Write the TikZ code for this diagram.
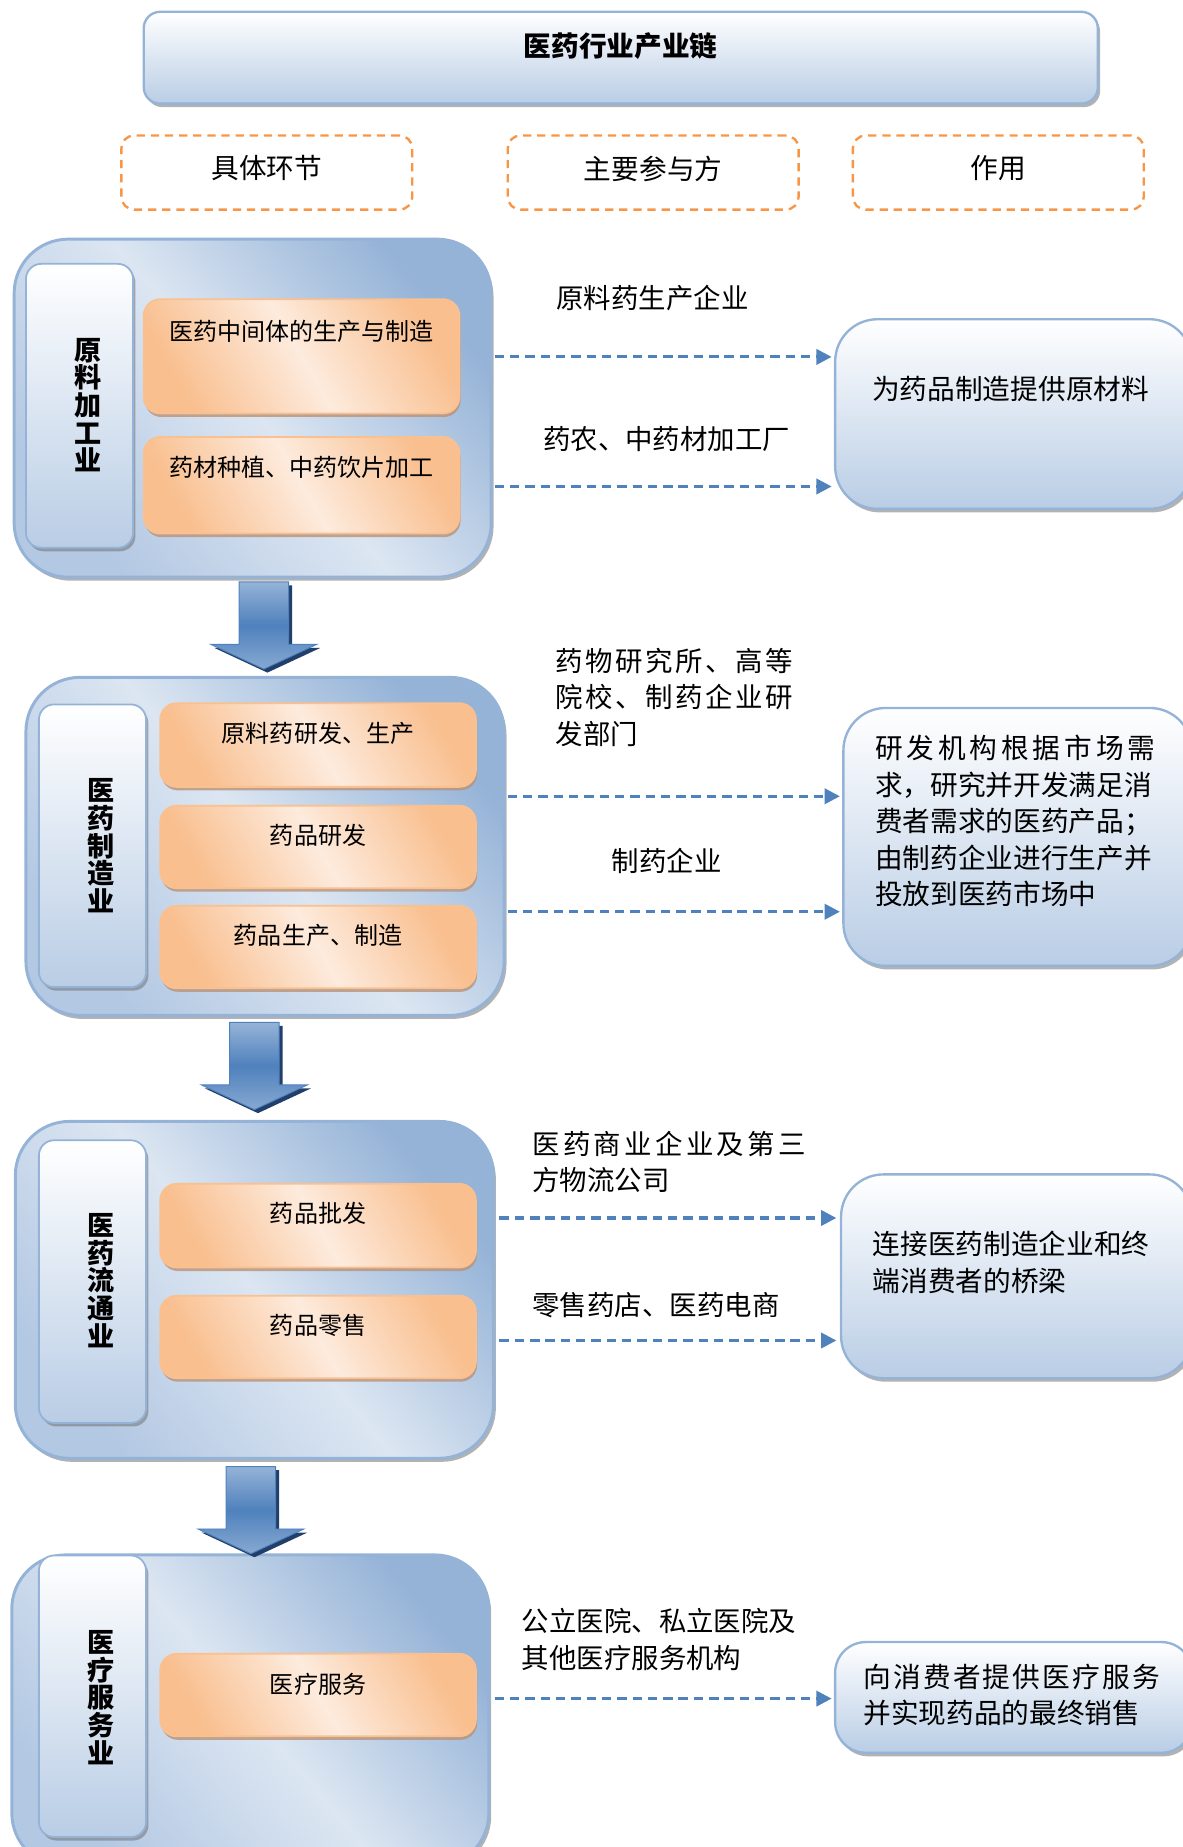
\documentclass[tikz,border=0pt]{standalone}
\usepackage{fontspec}
\newfontfamily\cjk{Noto Sans CJK SC}
\usetikzlibrary{shadows,arrows.meta,calc}
\definecolor{bordB}{HTML}{95B3D7}
\definecolor{lightB}{HTML}{DCE6F2}
\definecolor{midB}{HTML}{B9CDE5}
\definecolor{outD}{HTML}{95B3D7}
\definecolor{outM}{HTML}{B3C8E3}
\definecolor{darkB}{HTML}{4F81BD}
\definecolor{arrL}{HTML}{95B3D7}
\definecolor{arrSh}{HTML}{213F6A}
\definecolor{orng}{HTML}{F79646}
\definecolor{orL}{HTML}{FDEBDD}
\definecolor{orD}{HTML}{F9BF8F}
\definecolor{orB}{HTML}{FAC090}
\definecolor{orBr}{HTML}{B8937A}
\newcommand\fsz[2]{\fontsize{#1pt}{#2pt}\selectfont}
\newcommand\lsp[2]{{\addfontfeatures{LetterSpace=#1}#2}}
\tikzset{
  downarr/.pic={
    \fill[arrSh, shift={(3,3)}] (-21,0) -- (21,0) -- (21,53) -- (45,53) -- (0,74) -- (-45,53) -- (-21,53) -- cycle;
    \shade[top color=arrL, bottom color=arrL!80!darkB, middle color=darkB] (-21,0) -- (21,0) -- (21,53) -- (45,53) -- (0,74) -- (-45,53) -- (-21,53) -- cycle;
    \draw[darkB, line width=0.8pt] (-21,0) -- (21,0) -- (21,53) -- (45,53) -- (0,74) -- (-45,53) -- (-21,53) -- cycle;
  }
}
\begin{document}
\begin{tikzpicture}[x=1pt,y=-1pt,
  every node/.style={font=\cjk, inner sep=0pt, outer sep=0pt},
  shd/.style={drop shadow={shadow xshift=2pt, shadow yshift=-3pt, fill=black!55, opacity=0.55}},
  titlebox/.style={shd, draw=bordB, line width=2pt, rounded corners=14pt, top color=white, bottom color=midB},
  headbox/.style={draw=orng, line width=2pt, dash pattern=on 7pt off 5pt, rounded corners=11pt},
  outerbox/.style={shd, draw=bordB, line width=2.5pt, rounded corners=46pt, top color=outD, bottom color=outM, middle color=lightB, shading angle=-50},
  labbox/.style={shd, draw=bordB, line width=1.5pt, rounded corners=13pt, top color=white, bottom color=midB},
  obox/.style={drop shadow={shadow xshift=1pt, shadow yshift=-3pt, fill=orBr, opacity=0.8}, draw=orB, line width=1.5pt, rounded corners=14pt, top color=orD, bottom color=orD, middle color=orL, shading angle=-60},
  rbox/.style={shd, draw=bordB, line width=2pt, rounded corners=36pt, top color=white, bottom color=midB},
  conn/.style={draw=darkB, line width=2.6pt, dash pattern=on 8pt off 5pt, -{Triangle[length=13pt,width=13pt]}},
  ttl/.style={font=\cjk\bfseries\fsz{23.5}{26}},
  htxt/.style={font=\cjk\fsz{23.5}{26}},
  otxt/.style={font=\cjk\fsz{20.4}{24}},
  vtxt/.style={font=\cjk\bfseries\fsz{23}{23.5}, align=center},
  ptxt/.style={font=\cjk\fsz{23.3}{31}, align=left},
  rtxt/.style={font=\cjk\fsz{23.5}{31}, align=left}
]
\useasboundingbox (0,0) rectangle (1004,1568);

% title and headers
\node[titlebox, minimum width=810pt, minimum height=78pt] (title) at (527,49) {};
\node[ttl] (titletext) at (527,39) {医药行业产业链};
\node[headbox, minimum width=247pt, minimum height=63pt] (h1) at (226.5,146.5) {};
\node[headbox, minimum width=247pt, minimum height=63pt] (h2) at (554.5,146.5) {};
\node[headbox, minimum width=247pt, minimum height=63pt] (h3) at (847.5,146.5) {};
\node[htxt] (h1t) at (226.5,143) {具体环节};
\node[htxt] (h2t) at (554.5,143) {主要参与方};
\node[htxt] (h3t) at (847.5,143) {作用};

% ---------- section 1
\node[outerbox, minimum width=405pt, minimum height=287pt] (s1) at (214.5,346.5) {};
\node[labbox, minimum width=91pt, minimum height=241pt] (l1) at (67.5,344.5) {};
\node[vtxt] (l1t) at (75,344) {原\\料\\加\\工\\业};
\node[obox, minimum width=268pt, minimum height=97pt] (o1a) at (256,302.5) {};
\node[otxt] (o1at) at (256,281) {医药中间体的生产与制造};
\node[obox, minimum width=268pt, minimum height=82pt] (o1b) at (256,412) {};
\node[otxt] (o1bt) at (256,397) {药材种植、中药饮片加工};
\node[rbox, minimum width=303pt, minimum height=161pt] (r1) at (860.5,351.5) {};
\node[rtxt] (r1t) at (858,330) {为药品制造提供原材料};
\node[ptxt] (p1a) at (554,253) {原料药生产企业};
\node[ptxt] (p1b) at (566,373) {药农、中药材加工厂};
\coordinate (y1a) at (0,303);
\coordinate (y1b) at (0,413);
\draw[conn, shorten <=3pt, shorten >=3pt] (s1.east |- y1a) -- (r1.west |- y1a);
\draw[conn, shorten <=3pt, shorten >=3pt] (s1.east |- y1b) -- (r1.west |- y1b);

% ---------- section 2
\node[outerbox, minimum width=406pt, minimum height=287pt] (s2) at (225,718.5) {};
\node[labbox, minimum width=91pt, minimum height=240pt] (l2) at (78.5,718) {};
\node[vtxt] (l2t) at (86,718) {医\\药\\制\\造\\业};
\node[obox, minimum width=268pt, minimum height=71pt] (o2a) at (270,632.5) {};
\node[otxt] (o2at) at (270,623) {原料药研发、生产};
\node[obox, minimum width=268pt, minimum height=70pt] (o2b) at (270,719) {};
\node[otxt] (o2bt) at (270,709) {药品研发};
\node[obox, minimum width=268pt, minimum height=70pt] (o2c) at (270,804) {};
\node[otxt] (o2ct) at (270,794) {药品生产、制造};
\node[rbox, minimum width=296pt, minimum height=219pt] (r2) at (864,710.5) {};
\node[rtxt, anchor=west] (r2t) at (743,697) {\lsp{14}{研发机构根据市场需}\\求，研究并开发满足消\\费者需求的医药产品；\\由制药企业进行生产并\\投放到医药市场中};
\node[ptxt, anchor=west] (p2a) at (472,592) {\lsp{9}{药物研究所、高等}\\\lsp{9}{院校、制药企业研}\\发部门};
\node[ptxt] (p2b) at (566,731) {制药企业};
\coordinate (y2a) at (0,676);
\coordinate (y2b) at (0,774);
\draw[conn, shorten <=3pt, shorten >=3pt] (s2.east |- y2a) -- (r2.west |- y2a);
\draw[conn, shorten <=3pt, shorten >=3pt] (s2.east |- y2b) -- (r2.west |- y2b);

% ---------- section 3
\node[outerbox, minimum width=406pt, minimum height=286pt] (s3) at (216,1095) {};
\node[labbox, minimum width=91pt, minimum height=240pt] (l3) at (78.5,1088) {};
\node[vtxt] (l3t) at (86,1087) {医\\药\\流\\通\\业};
\node[obox, minimum width=268pt, minimum height=71pt] (o3a) at (270,1040.5) {};
\node[otxt] (o3at) at (270,1030) {药品批发};
\node[obox, minimum width=268pt, minimum height=70pt] (o3b) at (270,1135) {};
\node[otxt] (o3bt) at (270,1125) {药品零售};
\node[rbox, minimum width=298pt, minimum height=173pt] (r3) at (863,1083.5) {};
\node[rtxt, anchor=west] (r3t) at (741,1071.5) {连接医药制造企业和终\\端消费者的桥梁};
\node[ptxt, anchor=west] (p3a) at (452,986.5) {\lsp{12}{医药商业企业及第三}\\方物流公司};
\node[ptxt, anchor=west] (p3b) at (452,1108) {零售药店、医药电商};
\coordinate (y3a) at (0,1034);
\coordinate (y3b) at (0,1138);
\draw[conn, shorten <=5pt, shorten >=4pt] (s3.east |- y3a) -- (r3.west |- y3a);
\draw[conn, shorten <=5pt, shorten >=4pt] (s3.east |- y3b) -- (r3.west |- y3b);

% ---------- section 4
\node[outerbox, minimum width=405pt, minimum height=265pt] (s4) at (212.5,1452.5) {};
\node[labbox, minimum width=91pt, minimum height=239pt] (l4) at (78.5,1440) {};
\node[vtxt] (l4t) at (86,1441) {医\\疗\\服\\务\\业};
\node[obox, minimum width=268pt, minimum height=70pt] (o4) at (270,1439) {};
\node[otxt] (o4t) at (270,1430) {医疗服务};
\node[rbox, rounded corners=26pt, minimum width=303pt, minimum height=94pt] (r4) at (860.5,1441) {};
\node[rtxt, anchor=west] (r4t) at (733,1439) {\lsp{8}{向消费者提供医疗服务}\\并实现药品的最终销售};
\node[ptxt, anchor=west] (p4) at (443,1392) {公立医院、私立医院及\\其他医疗服务机构};
\coordinate (y4) at (0,1442);
\draw[conn, shorten <=5pt, shorten >=3pt] (s4.east |- y4) -- (r4.west |- y4);

% ---------- down arrows
\pic (d1) at (224,494) {downarr};
\pic (d2) at (216,868) {downarr};
\pic (d3) at (213,1245) {downarr};
\end{tikzpicture}
\end{document}
